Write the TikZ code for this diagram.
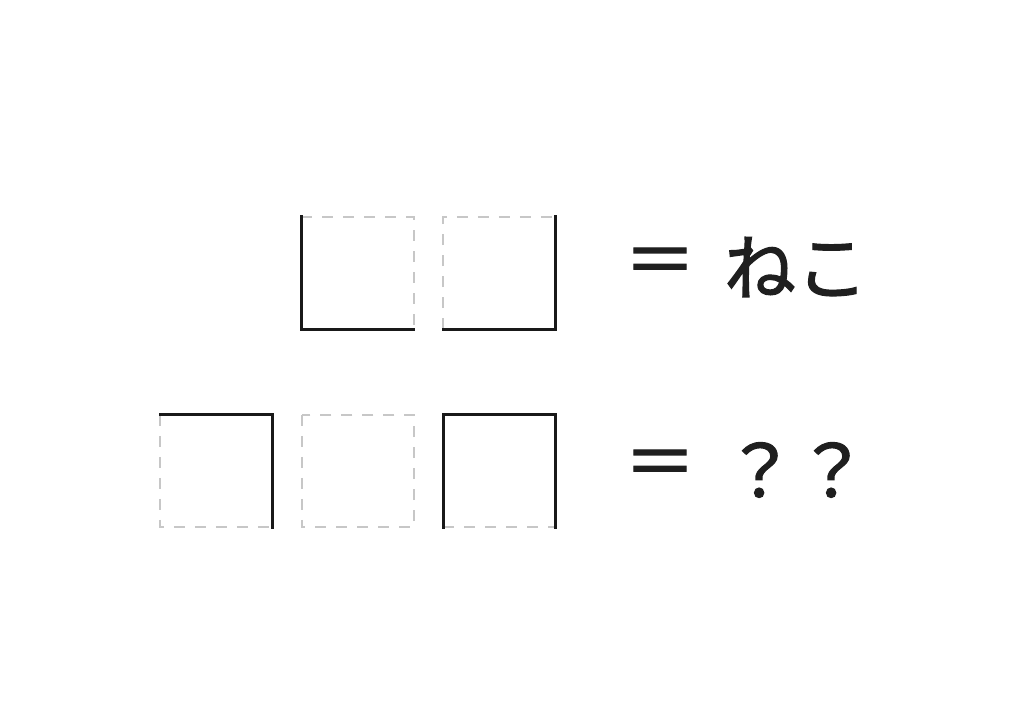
\documentclass[tikz,border=0pt]{standalone}
\usepackage{fontspec}
\newfontfamily\jp[FakeBold=1.6]{Noto Sans CJK JP}
\tikzset{
  cell/.style={minimum width=112pt, minimum height=112pt, inner sep=0pt, draw=none},
  sol/.style={line width=3.2pt, black!90, line join=miter, line cap=rect},
  dsh/.style={line width=2pt, black!22, dash pattern=on 11pt off 10pt},
  txt/.style={inner sep=0pt, font=\jp\fontsize{72}{80}\selectfont, text=black!88}
}
\begin{document}
\begin{tikzpicture}[x=1pt,y=-1pt]
\useasboundingbox (0,0) rectangle (1024,712);
\fill[white] (0,0) rectangle (1024,712);
% row 1
\node[cell] (a) at (357.5,273) {};
\node[cell] (b) at (499.5,273) {};
\draw[dsh] (a.north west) -- (a.north east) -- (a.south east);
\draw[sol] (a.north west) -- (a.south west) -- (a.south east);
\draw[dsh] (b.south west) -- (b.north west) -- (b.north east);
\draw[sol] (b.north east) -- (b.south east) -- (b.south west);
% row 2
\node[cell] (c) at (216.5,471) {};
\node[cell] (d) at (358,471) {};
\node[cell] (e) at (499.5,471) {};
\draw[dsh] (c.north west) -- (c.south west) -- (c.south east);
\draw[sol] (c.north west) -- (c.north east) -- (c.south east);
\draw[dsh] (d.north west) rectangle (d.south east);
\draw[dsh] (e.south west) -- (e.south east);
\draw[sol] (e.south west) -- (e.north west) -- (e.north east) -- (e.south east);
% texts
\node[txt] (eq1) at (660,267) {＝};
\node[txt] (neko) at (796,267) {ねこ};
\node[txt] (eq2) at (660,469) {＝};
\node[txt] (qq) at (796,470) {？？};
\end{tikzpicture}
\end{document}
